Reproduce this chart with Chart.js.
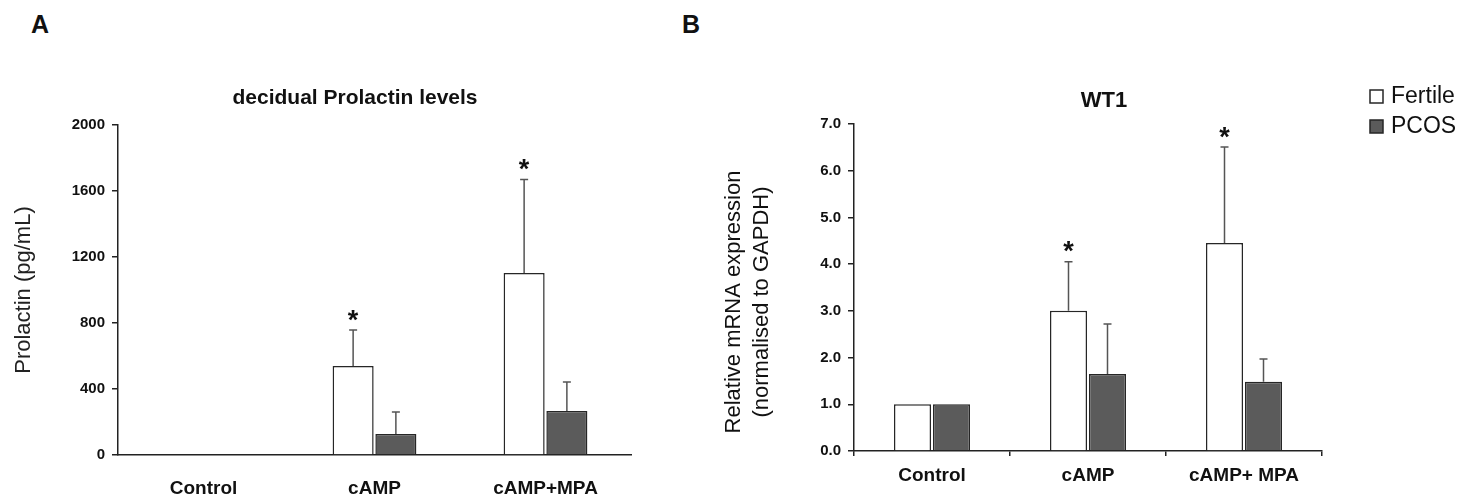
<!DOCTYPE html>
<html>
<head>
<meta charset="utf-8">
<script src="https://cdn.jsdelivr.net/npm/chart.js@4.4.1/dist/chart.umd.min.js"></script>
<style>
  body { margin: 0; background: #fff; width: 1476px; height: 499px; overflow: hidden; position: relative;
         font-family: "Liberation Sans", Arial, sans-serif; }
  .panel { position: absolute; top: 12px; font-size: 25px; font-weight: bold; line-height: 25px; color: #111; }
  #wrapA { position: absolute; left: 0; top: 0; width: 680px; height: 499px; }
  #wrapB { position: absolute; left: 680px; top: 0; width: 796px; height: 499px; }
</style>
</head>
<body>
<div class="panel" style="left:31px">A</div>
<div class="panel" style="left:682px">B</div>
<div id="wrapA"><canvas id="chartA"></canvas></div>
<div id="wrapB"><canvas id="chartB"></canvas></div>
<script>
// categories
const groupsA = ["Control", "cAMP", "cAMP+MPA"];
const groupsB = ["Control", "cAMP", "cAMP+ MPA"];
const seriesNames = ["Fertile", "PCOS"];

// panel A - decidual prolactin (pg/mL), mean and SEM
const prlFertile = [null, 539, 1103];
const prlFertileErr = [null, 219, 567];
const prlPcos = [null, 127, 267];
const prlPcosErr = [null, 134, 175];
const prlSig = [false, true, true];

// panel B - WT1 relative mRNA expression
const wt1Fertile = [1.0, 3.0, 4.45];
const wt1FertileErr = [0, 1.05, 2.06];
const wt1Pcos = [1.0, 1.65, 1.48];
const wt1PcosErr = [0, 1.07, 0.49];
const wt1Sig = [false, true, true];

// tick labels
const yTicksA = [0, 400, 800, 1200, 1600, 2000];
const yTicksB = [0, 1, 2, 3, 4, 5, 6, 7];

const FONT = '"Liberation Sans", Arial, sans-serif';
const INK = '#111';
const fertileFill = '#ffffff';
const pcosFill = '#5b5b5b';
const barEdge = '#262626';

// error bars + asterisks above the bars
function drawErrors(chart) {
  const ctx = chart.ctx;
  const y = chart.scales.y;
  chart.data.datasets.forEach((ds, di) => {
    const meta = chart.getDatasetMeta(di);
    meta.data.forEach((bar, i) => {
      const v = ds.data[i];
      const e = ds.errors[i];
      if (v == null || !e) return;
      const top = y.getPixelForValue(v + e);
      ctx.save();
      ctx.strokeStyle = '#555';
      ctx.lineWidth = 1.5;
      ctx.beginPath();
      ctx.moveTo(bar.x, bar.y);
      ctx.lineTo(bar.x, top);
      ctx.moveTo(bar.x - 4, top);
      ctx.lineTo(bar.x + 4, top);
      ctx.stroke();
      if (ds.sig && ds.sig[i]) {
        ctx.fillStyle = INK;
        ctx.font = 'bold 27px ' + FONT;
        ctx.textAlign = 'center';
        ctx.textBaseline = 'alphabetic';
        ctx.fillText('*', bar.x, top - 17 + 0.58 * 27);
      }
      ctx.restore();
    });
  });
}

function drawText(ctx, text, x, y, font, align) {
  ctx.save();
  ctx.fillStyle = INK;
  ctx.font = font;
  ctx.textAlign = align || 'center';
  ctx.textBaseline = 'middle';
  ctx.fillText(text, x, y);
  ctx.restore();
}

function barDatasets(f, fErr, p, pErr, sig, pct) {
  return [
    { label: seriesNames[0], data: f, errors: fErr, sig: sig,
      backgroundColor: fertileFill, borderColor: barEdge, borderWidth: 1.5,
      categoryPercentage: 0.5, barPercentage: pct },
    { label: seriesNames[1], data: p, errors: pErr,
      backgroundColor: pcosFill, borderColor: barEdge, borderWidth: 1.5,
      categoryPercentage: 0.5, barPercentage: pct }
  ];
}

function yScale(ticks, fmt, width, title) {
  return {
    min: ticks[0], max: ticks[ticks.length - 1],
    afterBuildTicks: s => { s.ticks = ticks.map(v => ({ value: v })); },
    afterFit: s => { s.width = width; },
    border: { display: true, color: '#222', width: 1.5 },
    grid: { display: true, drawOnChartArea: false, drawTicks: true, tickLength: 6, color: '#222', lineWidth: 1.5 },
    ticks: { color: INK, padding: 7, font: { family: FONT, size: 15, weight: 'bold' }, callback: fmt },
    title: title
  };
}

// ---- panel A
new Chart(document.getElementById('chartA'), {
  type: 'bar',
  data: { labels: groupsA, datasets: barDatasets(prlFertile, prlFertileErr, prlPcos, prlPcosErr, prlSig, 0.96) },
  options: {
    responsive: true, maintainAspectRatio: false, animation: false,
    layout: { padding: { left: 11, right: 49, top: 125, bottom: 0 } },
    plugins: { legend: { display: false }, tooltip: { enabled: false } },
    scales: {
      x: {
        afterFit: s => { s.height = 44; },
        border: { display: true, color: '#222', width: 1.5 },
        grid: { display: false },
        ticks: { color: INK, padding: 14, font: { family: FONT, size: 19, weight: 'bold' } }
      },
      y: yScale(yTicksA, v => String(v), 107, {
        display: true, text: 'Prolactin (pg/mL)', color: '#222',
        padding: { top: 0, bottom: 0 }, font: { family: FONT, size: 22, lineHeight: 1.2 }
      })
    }
  },
  plugins: [{
    id: 'decorA',
    afterDatasetsDraw: drawErrors,
    afterDraw: chart => {
      drawText(chart.ctx, 'decidual Prolactin levels', 355, 98, 'bold 21px ' + FONT);
    }
  }]
});

// ---- panel B
new Chart(document.getElementById('chartB'), {
  type: 'bar',
  data: { labels: groupsB, datasets: barDatasets(wt1Fertile, wt1FertileErr, wt1Pcos, wt1PcosErr, wt1Sig, 0.95) },
  options: {
    responsive: true, maintainAspectRatio: false, animation: false,
    layout: { padding: { left: 0, right: 154, top: 124, bottom: 0 } },
    plugins: { legend: { display: false }, tooltip: { enabled: false } },
    scales: {
      x: {
        afterFit: s => { s.height = 48; },
        border: { display: true, color: '#222', width: 1.5 },
        grid: { display: true, drawOnChartArea: false, drawTicks: true, tickLength: 5, color: '#222', lineWidth: 1.5 },
        ticks: { color: INK, padding: 8, font: { family: FONT, size: 19, weight: 'bold' } }
      },
      y: yScale(yTicksB, v => v.toFixed(1), 174, { display: false })
    }
  },
  plugins: [{
    id: 'decorB',
    afterDatasetsDraw: drawErrors,
    afterDraw: chart => {
      const ctx = chart.ctx;
      drawText(ctx, 'WT1', 424, 101, 'bold 22px ' + FONT);
      // rotated two-line axis title
      ctx.save();
      ctx.translate(54, 302);
      ctx.rotate(-Math.PI / 2);
      drawText(ctx, 'Relative mRNA expression', 0, 0, '22px ' + FONT);
      ctx.restore();
      ctx.save();
      ctx.translate(82, 302);
      ctx.rotate(-Math.PI / 2);
      drawText(ctx, '(normalised to GAPDH)', 0, 0, '22px ' + FONT);
      ctx.restore();
      // legend
      const fills = [fertileFill, pcosFill];
      chart.data.datasets.forEach((ds, i) => {
        const cy = 96.5 + i * 30;
        ctx.save();
        ctx.fillStyle = fills[i];
        ctx.strokeStyle = barEdge;
        ctx.lineWidth = 1.5;
        ctx.fillRect(690, cy - 6.5, 13, 13);
        ctx.strokeRect(690, cy - 6.5, 13, 13);
        ctx.restore();
        drawText(ctx, ds.label, 711, cy, '23px ' + FONT, 'left');
      });
    }
  }]
});
</script>
</body>
</html>
